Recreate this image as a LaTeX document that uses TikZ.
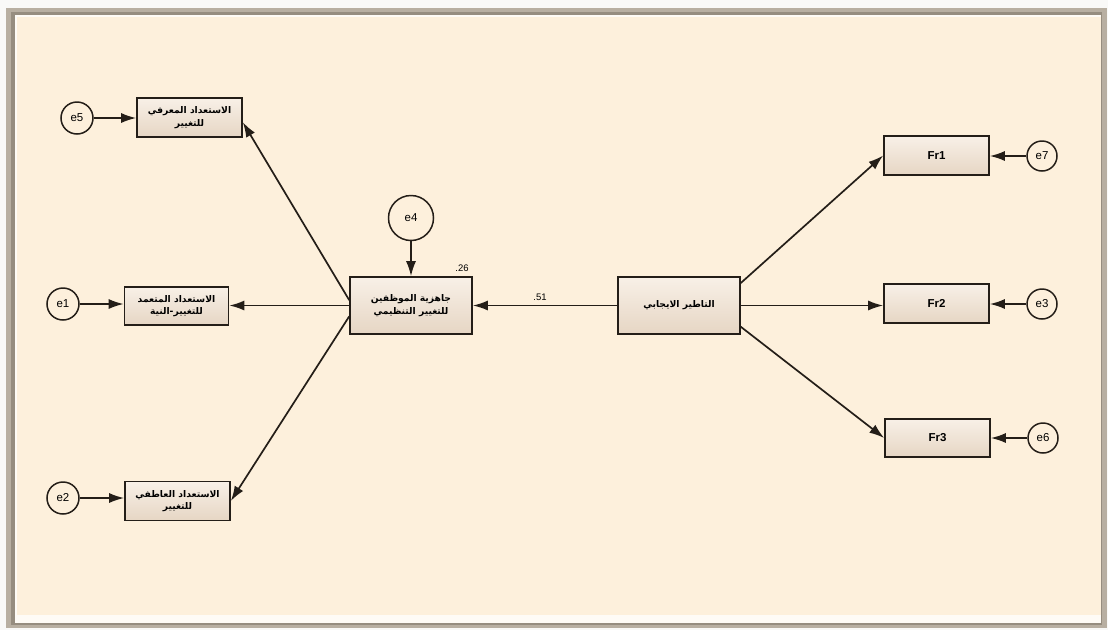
\documentclass[tikz,border=0pt]{standalone}
\usepackage{fontspec}
\usetikzlibrary{arrows.meta}
\setmainfont{Liberation Sans}
\newfontfamily\arabicfont[Script=Arabic]{DejaVu Sans}
\TeXXeTstate=1
\definecolor{paper}{HTML}{FDF0DC}
\definecolor{ink}{HTML}{241E18}
\definecolor{boxtop}{HTML}{F8F0E7}
\definecolor{boxbot}{HTML}{E6D6C4}
\definecolor{framegray}{HTML}{B8AFA2}
\definecolor{framedark}{HTML}{968D80}
\newcommand{\ar}[1]{\beginR #1\endR}
\tikzset{
  obs/.style={draw=ink, line width=1.6pt, top color=boxtop, bottom color=boxbot,
    inner sep=0pt, align=center, font=\arabicfont\bfseries\fontsize{9.2}{12.5}\selectfont},
  latin/.style={draw=ink, line width=1.6pt, top color=boxtop, bottom color=boxbot,
    inner sep=0pt, font=\bfseries\fontsize{11.5}{13}\selectfont},
  err/.style={circle, draw=ink, line width=1.5pt, fill=paper, inner sep=0pt,
    font=\fontsize{11.5}{13}\selectfont},
  path/.style={draw=ink, line width=1.7pt, -{Latex[length=15pt,width=10pt]}},
  coef/.style={font=\fontsize{9.5}{11}\selectfont, inner sep=0pt}
}
\begin{document}
\begin{tikzpicture}[x=1pt, y=-1pt]
  % page and bevelled frame
  \fill[white!92!framegray] (0,0) rectangle (1108,630);
  \fill[framegray] (6,8) rectangle (1107,628);
  \fill[framedark] (11,12) rectangle (1102,625);
  \fill[white!75!paper] (15,15) rectangle (1101,623);
  \fill[paper] (17,17) rectangle (1101,615);
  \useasboundingbox (0,0) rectangle (1108,630);

  % observed variables, left side
  \node[obs, minimum width=105pt, minimum height=39pt] (cog) at (189.5,117.5)
    {\ar{الاستعداد المعرفي}\\\ar{للتغيير}};
  \node[obs, minimum width=104pt, minimum height=38pt] (int) at (176.5,306)
    {\ar{الاستعداد المتعمد}\\\ar{للتغيير-النية}};
  \node[obs, minimum width=105pt, minimum height=39pt] (emo) at (177.5,501)
    {\ar{الاستعداد العاطفي}\\\ar{للتغيير}};

  % central variables
  \node[obs, minimum width=122pt, minimum height=57pt] (ready) at (411,305.5)
    {\ar{جاهزية الموظفين}\\\ar{للتغيير التنظيمي}};
  \node[obs, minimum width=122pt, minimum height=57pt] (frame) at (679,305.5)
    {\ar{التاطير الايجابي}};

  % observed variables, right side
  \node[latin, minimum width=105pt, minimum height=39pt] (fr1) at (936.5,155.5) {Fr1};
  \node[latin, minimum width=105pt, minimum height=39pt] (fr2) at (936.5,303.5) {Fr2};
  \node[latin, minimum width=105pt, minimum height=38pt] (fr3) at (937.5,438) {Fr3};

  % error terms
  \node[err, minimum size=32pt] (e5) at (77,118) {e5};
  \node[err, minimum size=32pt] (e1) at (63,304) {e1};
  \node[err, minimum size=32pt] (e2) at (63,498) {e2};
  \node[err, minimum size=45pt] (e4) at (411,218) {e4};
  \node[err, minimum size=30pt] (e7) at (1042,156) {e7};
  \node[err, minimum size=30pt] (e3) at (1042,304) {e3};
  \node[err, minimum size=30pt] (e6) at (1043,438) {e6};

  % coefficients
  \node[coef] (r2) at (462,268) {.26};
  \node[coef] (b1) at (540,297) {.51};

  % structural paths
  \draw[path] (frame.west) -- (ready.east);
  \draw[path] (ready.175) -- (cog.-5);
  \draw[path] (ready.180) -- (int.east |- ready.180);
  \draw[path] (ready.190) -- (emo.east);
  \draw[path] (frame.20) -- (fr1.west);
  \draw[path] (frame.east) -- (fr2.west |- frame.east);
  \draw[path] (frame.-19) -- (fr3.west);

  % error paths
  \draw[path] (e4.south) -- (ready.north);
  \draw[path] (e5.east) -- (cog.west |- e5.east);
  \draw[path] (e1.east) -- (int.west |- e1.east);
  \draw[path] (e2.east) -- (emo.west |- e2.east);
  \draw[path] (e7.west) -- (fr1.east |- e7.west);
  \draw[path] (e3.west) -- (fr2.east |- e3.west);
  \draw[path] (e6.west) -- (fr3.east |- e6.west);
\end{tikzpicture}
\end{document}
